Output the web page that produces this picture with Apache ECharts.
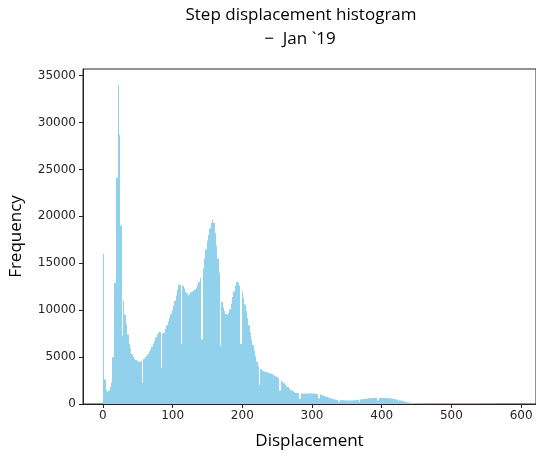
<!DOCTYPE html>
<html>
<head>
<meta charset="utf-8">
<script src="https://cdn.jsdelivr.net/npm/echarts@6/dist/echarts.min.js"></script>
<style>html,body{margin:0;padding:0;background:#fff}#c{width:536px;height:455px}</style>
</head>
<body>
<div id="c"></div>
<script>
// ---- data ----
const titleLines = ['Step displacement histogram', '\u2212  Jan `19'];
const xAxisLabel = 'Displacement';
const yAxisLabel = 'Frequency';
const xTicks = [0, 100, 200, 300, 400, 500, 600];
const yTicks = [0, 5000, 10000, 15000, 20000, 25000, 30000, 35000];
const binStart = 0;
const binWidth = 1.931;
const counts = [
16000,2600,1500,1300,1400,1800,2300,5000,12900,12900,
24100,34000,28700,19000,7300,11000,9500,8500,7400,6400,
5900,5300,5000,4800,4700,4600,4500,4500,4600,2300,
4800,5000,5100,5300,5600,5800,6100,6400,6700,7100,
7400,7600,7700,3900,7500,7600,8000,8400,8800,9200,
9600,10000,10500,11000,11600,12200,12700,12700,6400,12600,
12300,12000,11800,11600,11700,11900,12000,12100,12200,12400,
12700,13000,13400,6900,14400,15500,16500,17400,18000,18700,
19300,19600,19300,18200,16900,15500,14000,6200,10900,10300,
9900,9600,9500,9700,10100,10700,11400,12000,12600,13000,
12900,12600,6400,12000,11300,10600,9900,9200,8400,7600,
6900,6300,5700,5100,4500,4000,2000,3700,3600,3500,
3450,3400,3350,3300,3250,3200,3150,3050,2950,2850,
2750,1450,2500,2350,2200,2050,1900,1800,1650,1550,
1450,1350,1250,1200,1150,1150,550,1150,1150,1100,
1150,1150,1100,1150,1150,1100,1150,1100,1100,1050,
600,1050,950,900,850,800,750,700,650,600,
550,500,480,450,430,250,420,400,400,390,
380,380,370,370,380,380,390,400,420,440,
250,480,500,520,540,560,580,600,610,620,
640,650,660,660,400,660,650,640,640,630,
620,620,610,600,590,560,540,500,470,300,
420,380,340,300,260,220,190,160,140,120,
100,90,80,75,70,70,68,66,65,64,
63,62,61,60,60,60,59,58,58,57,
56,56,55,55,54,54,53,53,52,52,
51,50,50,49,49,48,48,47,47,46,
45,45,44,44,43,42,42,41,40,40,
39,38,37,36,30,20,18,17,16,15,
15,14,13,12,12,11,10,10,9,8,
8,7,6,5,5
];

// ---- chart ----
const bins = counts.map((c, i) => [binStart + i * binWidth, binStart + (i + 1) * binWidth, c]);
const xMin = -28.6, xMax = 621.4, yMax = 35700;

const chart = echarts.init(document.getElementById('c'), null, {renderer: 'canvas'});
const tickFont = {fontFamily: 'DejaVu Sans', fontSize: 12, color: '#262626'};
const frame = {show: true, onZero: false, lineStyle: {color: '#262626', width: 1}};
chart.setOption({
  animation: false,
  backgroundColor: '#fff',
  grid: {left: 83, top: 69, right: -2, bottom: 48, show: true, borderColor: '#262626', borderWidth: 1, backgroundColor: 'transparent'},
  graphic: [
    {type: 'text', x: 301, y: 7, style: {text: titleLines[0], fontFamily: 'Open Sans', fontSize: 17, fill: '#000', textAlign: 'center'}},
    {type: 'text', x: 300, y: 31, style: {text: titleLines[1], fontFamily: 'Open Sans', fontSize: 17, fill: '#000', textAlign: 'center'}}
  ],
  xAxis: [{
    type: 'value', min: xMin, max: xMax,
    axisLine: frame,
    splitLine: {show: false},
    axisTick: {show: true, length: 4, lineStyle: {color: '#262626'}, customValues: xTicks},
    axisLabel: Object.assign({margin: 6, customValues: xTicks, formatter: v => String(v)}, tickFont),
    name: xAxisLabel, nameLocation: 'middle', nameGap: 29,
    nameTextStyle: {fontFamily: 'Open Sans', fontSize: 17, color: '#000', padding: [0, 0, 0, 0]}
  }],
  yAxis: [{
    type: 'value', min: 0, max: yMax,
    axisLine: frame,
    splitLine: {show: false},
    axisTick: {show: true, length: 4, lineStyle: {color: '#262626'}, customValues: yTicks},
    axisLabel: Object.assign({margin: 7, customValues: yTicks, formatter: v => String(v)}, tickFont),
    name: yAxisLabel, nameLocation: 'middle', nameGap: 58,
    nameTextStyle: {fontFamily: 'Open Sans', fontSize: 17, color: '#000'}
  }],
  series: [{
    type: 'custom',
    data: bins,
    encode: {x: [0, 1], y: 2},
    clip: true,
    renderItem: function (params, api) {
      const p0 = api.coord([api.value(0), api.value(2)]);
      const p1 = api.coord([api.value(1), 0]);
      const xl = Math.round(p0[0]);
      const xr = Math.round(p1[0]);
      return {
        type: 'rect',
        shape: {x: xl, y: p0[1], width: Math.max(xr - xl, 1), height: p1[1] - p0[1]},
        style: {fill: '#92d1ec'}
      };
    }
  }]
});
</script>
</body>
</html>
